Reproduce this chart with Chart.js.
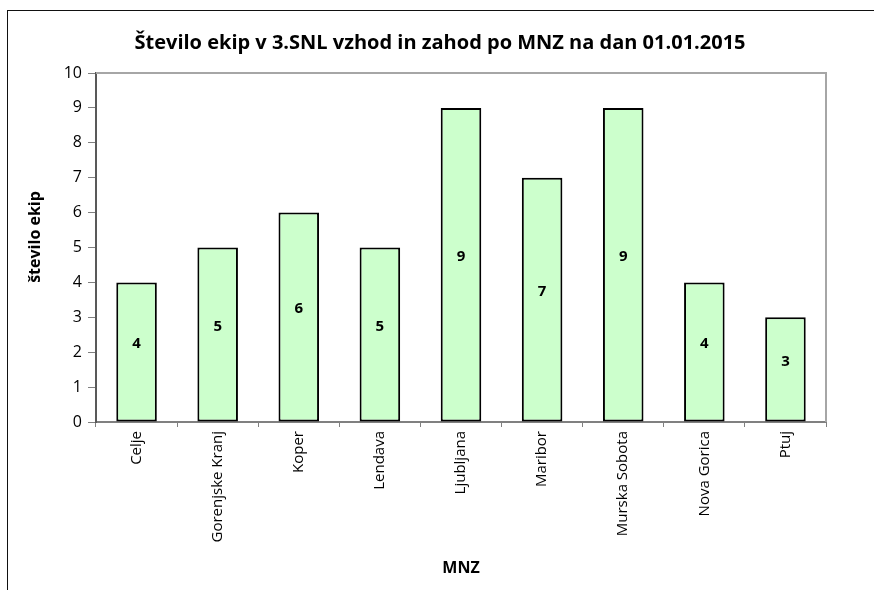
<!DOCTYPE html>
<html>
<head>
<meta charset="utf-8">
<script src="https://cdn.jsdelivr.net/npm/chart.js@4.4.1/dist/chart.umd.min.js"></script>
<style>
  html, body { margin: 0; padding: 0; background: #fff; overflow: hidden; }
  #wrap { position: relative; width: 874px; height: 590px; }
  #frame { position: absolute; left: 7px; top: 10px; width: 900px; height: 700px; border-left: 1px solid #111; border-top: 1px solid #111; }
  canvas { position: absolute; left: 0; top: 0; }
</style>
</head>
<body>
<div id="wrap">
  <div id="frame"></div>
  <canvas id="mnzChart" width="874" height="590"></canvas>
</div>
<script>
const categories = ['Celje', 'Gorenjske Kranj', 'Koper', 'Lendava', 'Ljubljana', 'Maribor', 'Murska Sobota', 'Nova Gorica', 'Ptuj'];
const teamCounts = [4, 5, 6, 5, 9, 7, 9, 4, 3];
const yMin = 0;
const yMax = 10;
const yStep = 1;
const chartTitle = 'Število ekip v 3.SNL vzhod in zahod po MNZ na dan 01.01.2015';
const yTitle = 'število ekip';

const FONT = "'Open Sans', 'DejaVu Sans', sans-serif";

// title, y-axis title, value labels and the gray top/right border of the plot
const extras = {
  id: 'extras',
  beforeDatasetsDraw(chart) {
    const { ctx, chartArea: a } = chart;
    ctx.save();
    ctx.strokeStyle = '#a6a6a6';
    ctx.lineWidth = 2;
    ctx.beginPath();
    ctx.moveTo(a.left, a.top);
    ctx.lineTo(a.right, a.top);
    ctx.lineTo(a.right, a.bottom);
    ctx.stroke();
    ctx.restore();
  },
  afterDatasetsDraw(chart) {
    const ctx = chart.ctx;
    const meta = chart.getDatasetMeta(0);
    ctx.save();
    ctx.fillStyle = '#000';
    ctx.textAlign = 'center';
    ctx.textBaseline = 'middle';
    ctx.font = 'bold 15px ' + FONT;
    meta.data.forEach((bar, i) => {
      ctx.fillText(String(teamCounts[i]), bar.x, (bar.y + bar.base) / 2 - 8);
    });

    ctx.font = 'bold 20px ' + FONT;
    ctx.fillText(chartTitle, 440, 43);

    ctx.translate(35, 237);
    ctx.rotate(-Math.PI / 2);
    ctx.font = 'bold 16px ' + FONT;
    ctx.fillText(yTitle, 0, 0);
    ctx.restore();
  }
};

new Chart(document.getElementById('mnzChart'), {
  type: 'bar',
  data: {
    labels: categories,
    datasets: [{
      data: teamCounts,
      backgroundColor: '#ccffcc',
      borderColor: '#000',
      borderWidth: 2,
      borderSkipped: false,
      barPercentage: 0.5,
      categoryPercentage: 1
    }]
  },
  options: {
    responsive: false,
    animation: false,
    devicePixelRatio: 1,
    layout: { padding: { left: 0, right: 48, top: 73, bottom: 0 } },
    plugins: {
      legend: { display: false },
      tooltip: { enabled: false },
      title: { display: false }
    },
    scales: {
      x: {
        grid: { offset: true, drawOnChartArea: false, drawTicks: true, tickLength: 5, color: '#808080' },
        border: { color: '#808080', width: 2 },
        ticks: { color: '#000', font: { family: FONT, size: 15 }, maxRotation: 90, minRotation: 90, padding: 4 },
        title: { display: true, text: 'MNZ', color: '#000', font: { family: FONT, size: 16, weight: 'bold' }, padding: { top: 0, bottom: 12.4 } },
        afterFit(scale) { scale.height = 168; }
      },
      y: {
        min: yMin,
        max: yMax,
        grid: { drawOnChartArea: false, drawTicks: true, tickLength: 8, color: '#808080' },
        border: { color: '#595959', width: 2 },
        ticks: { stepSize: yStep, color: '#000', font: { family: FONT, size: 16 }, padding: 6 },
        afterFit(scale) { scale.width = 96; }
      }
    }
  },
  plugins: [extras]
});
</script>
</body>
</html>
